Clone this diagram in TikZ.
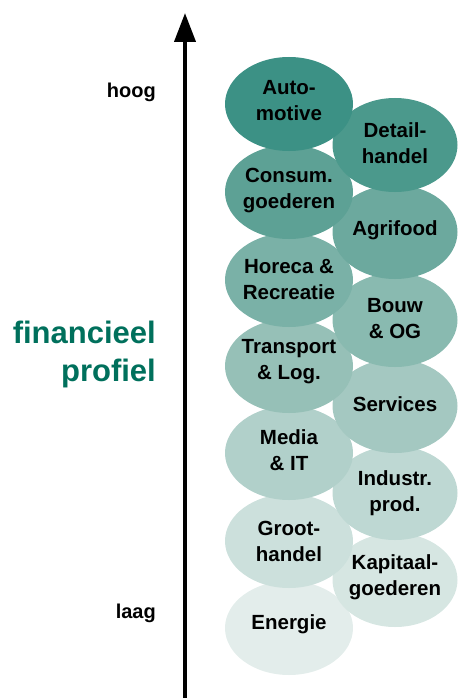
\documentclass[tikz,border=0pt]{standalone}
\usepackage{fontspec}
\setmainfont{Liberation Sans}
\usetikzlibrary{shapes.geometric,arrows.meta}
\definecolor{c1}{HTML}{3C9185}
\definecolor{c2}{HTML}{4B998C}
\definecolor{c3}{HTML}{5DA195}
\definecolor{c4}{HTML}{6CA99E}
\definecolor{c5}{HTML}{7AB1A7}
\definecolor{c6}{HTML}{89BAB0}
\definecolor{c7}{HTML}{96C0B7}
\definecolor{c8}{HTML}{A4C8C1}
\definecolor{c9}{HTML}{B1D0CA}
\definecolor{c10}{HTML}{BED8D3}
\definecolor{c11}{HTML}{CCE0DC}
\definecolor{c12}{HTML}{D6E6E2}
\definecolor{c13}{HTML}{E3EDEB}
\definecolor{titlegreen}{HTML}{00705C}
\tikzset{
  sector/.style={ellipse, inner sep=0pt, minimum height=94pt},
  lsec/.style={sector, minimum width=128pt},
  rsec/.style={sector, minimum width=125pt},
  sectext/.style={inner sep=0pt, text=black, align=center,
    font=\bfseries\fontsize{20.5}{26}\selectfont},
  axislabel/.style={anchor=east, inner sep=0pt, font=\bfseries\fontsize{20}{24}\selectfont, text=black},
}
\begin{document}
\begin{tikzpicture}[x=1pt,y=-1pt]
\useasboundingbox (0,0) rectangle (458,698);
% lightest first so darker ones lie on top
\node[lsec, fill=c13] (energie) at (289,628) {};
\node[sectext] (energiet) at ([yshift=4pt]energie.center) {Energie};
\node[rsec, fill=c12] (kapitaal) at (395,580) {};
\node[sectext] (kapitaalt) at ([yshift=3pt]kapitaal.center) {Kapitaal-\\goederen};
\node[lsec, fill=c11] (groot) at (289,541) {};
\node[sectext] (groott) at ([yshift=0pt]groot.center) {Groot-\\handel};
\node[rsec, fill=c10] (industr) at (395,493) {};
\node[sectext] (industrt) at ([yshift=0pt]industr.center) {Industr.\\prod.};
\node[lsec, fill=c9] (media) at (289,453) {};
\node[sectext] (mediat) at ([yshift=3pt]media.center) {Media\\\& IT};
\node[rsec, fill=c8] (services) at (395,406) {};
\node[sectext] (servicest) at ([yshift=2pt]services.center) {Services};
\node[lsec, fill=c7] (transport) at (289,366) {};
\node[sectext] (transportt) at ([yshift=4pt]transport.center) {Transport\\\& Log.};
\node[rsec, fill=c6] (bouw) at (395,320) {};
\node[sectext] (bouwt) at ([yshift=1pt]bouw.center) {Bouw\\\& OG};
\node[lsec, fill=c5] (horeca) at (289,280) {};
\node[sectext] (horecat) at ([yshift=0pt]horeca.center) {Horeca \&\\Recreatie};
\node[rsec, fill=c4] (agrifood) at (395,232) {};
\node[sectext] (agrifoodt) at ([yshift=2pt]agrifood.center) {Agrifood};
\node[lsec, fill=c3] (consum) at (289,192) {};
\node[sectext] (consumt) at ([yshift=1pt]consum.center) {Consum.\\goederen};
\node[rsec, fill=c2] (detail) at (395,145) {};
\node[sectext] (detailt) at ([yshift=2pt]detail.center) {Detail-\\handel};
\node[lsec, fill=c1] (auto) at (289,104) {};
\node[sectext] (autot) at ([yshift=3pt]auto.center) {Auto-\\motive};
% axis
\coordinate (axbot) at (185,698);
\coordinate (axtop) at (185,13);
\draw[line width=4pt, -{Triangle[width=21pt,length=29pt]}] (axbot) -- (axtop);
\node[axislabel] (hoog) at (156,92) {hoog};
\node[axislabel] (laag) at (156,613) {laag};
\node[anchor=east, align=right, inner sep=0pt, text=titlegreen,
  font=\bfseries\fontsize{31}{38}\selectfont] (titel) at (156,354) {financieel\\profiel};
\end{tikzpicture}
\end{document}
